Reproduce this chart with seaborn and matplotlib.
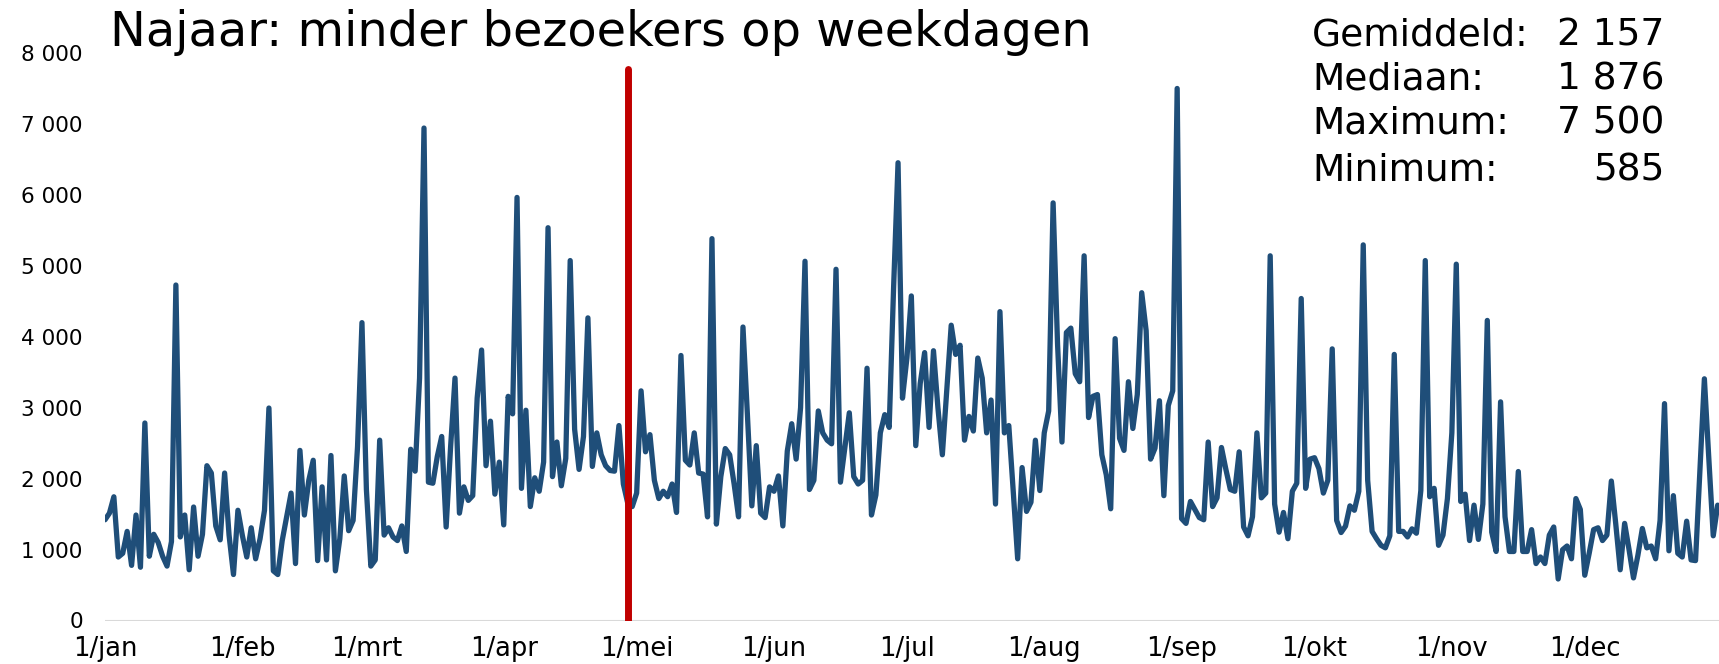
import matplotlib
matplotlib.use("Agg")
import matplotlib.pyplot as plt
import seaborn as sns
import numpy as np
import pandas as pd

# ---- data: daily visitors per month ----
jan = [1420, 1513, 1744, 895, 947, 1256, 777, 1487, 751, 2784, 906, 1215, 1101, 906, 767, 1112,
       4729, 1178, 1487, 715, 1600, 906, 1215, 2182, 2079, 1333, 1137, 2079, 1204, 648, 1554]
feb = [1200, 895, 1307, 870, 1153, 1554, 2995, 700, 648, 1127, 1462, 1796, 803, 2398, 1487, 1976,
       2259, 844, 1884, 854, 2326, 700, 1153, 2038, 1266, 1410, 2450, 4199]
mrt = [1847, 767, 854, 2542, 1204, 1307, 1178, 1127, 1333, 973, 2414, 2105, 3417, 6942, 1950, 1935,
       2311, 2594, 1318, 2440, 3417, 1513, 1884, 1693, 1760, 3134, 3813, 2182, 2810, 1781, 2233]
apr = [1348, 3160, 2913, 5964, 1863, 2964, 1606, 2012, 1822, 2233, 5537, 2028, 2516, 1899, 2285,
       5074, 2696, 2130, 2594, 4266, 2172, 2645, 2336, 2182, 2115, 2105, 2748, 1924, 1650, 1606]
mei = [1796, 3237, 2378, 2620, 1976, 1719, 1822, 1745, 1924, 1523, 3736, 2259, 2192, 2645, 2079,
       2064, 1461, 5383, 1359, 2028, 2424, 2336, 1924, 1461, 4137, 2900, 1616, 2465, 1513, 1451, 1884]
jun = [1822, 2038, 1333, 2388, 2774, 2275, 3000, 5064, 1847, 1976, 2954, 2645, 2542, 2491, 4951,
       1950, 2439, 2928, 2028, 1924, 1976, 3556, 1487, 1770, 2645, 2902, 2722, 4700, 6453, 3134]
jul = [3700, 4575, 2465, 3340, 3777, 2722, 3803, 3000, 2336, 3260, 4163, 3751, 3880, 2542, 2877,
       2671, 3700, 3417, 2645, 3108, 1642, 4354, 2645, 2748, 1822, 870, 2156, 1538, 1667, 2542, 1832]
aug = [2645, 2954, 5887, 3900, 2516, 4060, 4122, 3479, 3366, 5141, 2861, 3160, 3185, 2336, 2053,
       1575, 3973, 2568, 2398, 3366, 2707, 3185, 4621, 4086, 2275, 2429, 3098, 1760, 3031, 3237, 7500]
sep = [1436, 1369, 1678, 1565, 1451, 1420, 2516, 1606, 1729, 2439, 2130, 1847, 1822, 2378, 1318,
       1194, 1462, 2645, 1729, 1796, 5141, 1642, 1245, 1523, 1153, 1822, 1935, 4539, 1863, 2275]
okt = [2295, 2141, 1796, 1976, 3829, 1410, 1240, 1330, 1616, 1554, 1822, 5295, 1976, 1256, 1153,
       1060, 1024, 1194, 3751, 1256, 1256, 1178, 1292, 1230, 1832, 5074, 1745, 1863, 1060, 1204, 1719]
nov = [2645, 5023, 1678, 1781, 1127, 1626, 1143, 1642, 4230, 1245, 973, 3082, 1462, 973, 973, 2100,
       973, 973, 1281, 803, 895, 803, 1204, 1318, 585, 998, 1050, 870, 1719, 1565]
dec = [638, 947, 1281, 1307, 1127, 1204, 1966, 1359, 715, 1369, 998, 600, 921, 1297, 1024, 1050,
       870, 1410, 3057, 983, 1760, 947, 895, 1400, 854, 844, 2130, 3407, 2285, 1194, 1626]

month_labels = ["1/jan", "1/feb", "1/mrt", "1/apr", "1/mei", "1/jun",
                "1/jul", "1/aug", "1/sep", "1/okt", "1/nov", "1/dec"]
month_lengths = [31, 28, 31, 30, 31, 30, 31, 31, 30, 31, 30, 31]
marker_day = 118  # red vertical marker (end of April)

stat_labels = ["Gemiddeld:", "Mediaan:", "Maximum:", "Minimum:"]
stat_values = [2157, 1876, 7500, 585]
title = "Najaar: minder bezoekers op weekdagen"

# ---- build frame ----
values = jan + feb + mrt + apr + mei + jun + jul + aug + sep + okt + nov + dec
df = pd.DataFrame({"dag": np.arange(len(values)), "bezoekers": values})
month_starts = np.concatenate([[0], np.cumsum(month_lengths)[:-1]])

sns.set_theme(style="white")
plt.rcParams["font.family"] = ["DejaVu Sans"]

W, H = 1719, 664
fig = plt.figure(figsize=(W / 100, H / 100), dpi=100)
left_px, right_px, top_px, bottom_px = 105, 1719, 53, 620.5
ax = fig.add_axes([left_px / W, 1 - bottom_px / H, (right_px - left_px) / W, (bottom_px - top_px) / H])

ax.axhline(0, color="#D9D9D9", lw=1.5, zorder=1)
sns.lineplot(data=df, x="dag", y="bezoekers", ax=ax, color="#1F4E79", linewidth=3.8,
             solid_joinstyle="round", solid_capstyle="round", zorder=3)
ax.axvline(marker_day, ymin=0, ymax=0.972, color="#C00000", lw=5, zorder=4)

ax.set_xlim(0, 364.3)
ax.set_ylim(0, 8000)
ax.set_yticks(np.arange(0, 8001, 1000))
ax.set_yticklabels([f"{int(v):,}".replace(",", " ") for v in np.arange(0, 8001, 1000)],
                   fontsize=15.5, color="black")
ax.set_xticks(month_starts)
ax.set_xticklabels(month_labels, fontsize=18.5, color="black")
ax.tick_params(axis="y", pad=16, length=0)
ax.tick_params(axis="x", pad=11, length=0)
ax.set_xlabel("")
ax.set_ylabel("")
for s in ax.spines.values():
    s.set_visible(False)
ax.grid(False)

fig.text(110 / W, 1 - 33 / H, title, fontsize=34.5, ha="left", va="center", color="black")

rows_y = [36, 79, 124, 170]
for lab, val, yy in zip(stat_labels, stat_values, rows_y):
    fig.text(1312 / W, 1 - yy / H, lab, fontsize=27, ha="left", va="center", color="black")
    fig.text(1664 / W, 1 - yy / H, f"{val:,}".replace(",", " "), fontsize=27, ha="right",
             va="center", color="black")

fig.savefig("out.png", dpi=100, facecolor="white")
